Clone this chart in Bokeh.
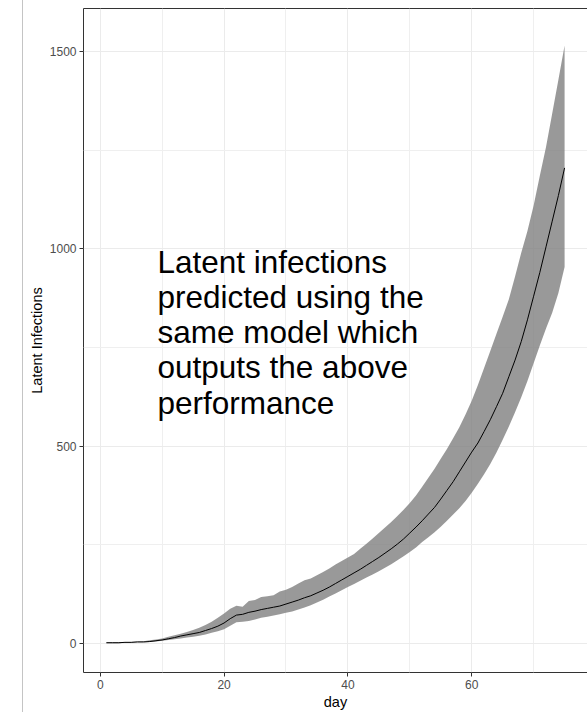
from bokeh.plotting import figure
from bokeh.models import Range1d, FixedTicker, Label, ColumnDataSource, Spacer
from bokeh.layouts import row
from bokeh.embed import file_html
from bokeh.resources import INLINE

days = list(range(1, 76))
median = [2, 2, 2, 3, 3, 4, 4, 5, 7, 9,
          12, 15, 19, 22, 25, 28, 33, 38, 44, 52,
          63, 72, 74, 79, 82, 86, 89, 92, 95, 100,
          105, 110, 116, 121, 128, 135, 143, 152, 161, 170,
          179, 188, 198, 208, 218, 229, 240, 252, 265, 280,
          295, 311, 328, 345, 366, 388, 410, 435, 460, 485,
          508, 537, 567, 600, 634, 676, 718, 765, 820, 880,
          940, 1005, 1070, 1135, 1205]
upper = [3, 3, 3, 4, 4, 5, 6, 8, 10, 13,
         17, 21, 25, 29, 34, 40, 47, 55, 65, 76,
         88, 96, 93, 108, 110, 118, 120, 122, 132, 136,
         143, 152, 160, 165, 173, 181, 190, 200, 209, 218,
         227, 240, 253, 266, 280, 294, 308, 323, 339, 356,
         375, 397, 420, 443, 468, 493, 520, 548, 580, 615,
         655, 698, 741, 785, 828, 872, 930, 990, 1045, 1110,
         1185, 1258, 1343, 1428, 1515]
lower = [1, 1, 1, 2, 2, 3, 3, 4, 5, 7,
         9, 11, 13, 15, 17, 20, 23, 27, 31, 36,
         45, 54, 55, 57, 61, 65, 68, 71, 74, 78,
         81, 86, 91, 97, 104, 111, 119, 127, 135, 143,
         151, 159, 167, 175, 183, 192, 201, 211, 221, 232,
         243, 257, 269, 282, 296, 311, 327, 343, 361, 382,
         405, 429, 455, 484, 516, 550, 586, 624, 665, 710,
         755, 798, 838, 888, 954]

x_ticks = [0, 20, 40, 60]
x_minor = [10, 30, 50, 70]
y_ticks = [0, 500, 1000, 1500]
y_minor = [250, 750, 1250]
x_title = "day"
y_title = "Latent Infections"
note_lines = ["Latent infections", "predicted using the", "same model which",
              "outputs the above", "performance"]

src = ColumnDataSource(dict(day=days, median=median, lower=lower, upper=upper))

FONT = "Liberation Sans"
FRAME_BOTTOM = 673  # canvas px

p = figure(width=565, height=712, output_backend="svg", toolbar_location=None,
           x_range=Range1d(-2.7, 78.7), y_range=Range1d(-73.4, 1608.8),
           min_border_left=60, min_border_right=1, min_border_top=8, min_border_bottom=39)
p.styles = {"border-left": "1px solid #c4c4c4"}
p.background_fill_color = "white"
p.border_fill_color = "white"
p.outline_line_color = "#333333"
p.outline_line_width = 1

p.xaxis.ticker = FixedTicker(ticks=x_ticks, minor_ticks=x_minor)
p.yaxis.ticker = FixedTicker(ticks=y_ticks, minor_ticks=y_minor)
p.xaxis.axis_label = x_title
p.yaxis.axis_label = y_title

for ax in (p.xaxis[0], p.yaxis[0]):
    ax.axis_line_color = None
    ax.major_tick_line_color = "#333333"
    ax.major_tick_out = 4
    ax.major_tick_in = 0
    ax.minor_tick_line_color = None
    ax.major_label_text_font = FONT
    ax.major_label_text_font_size = "12px"
    ax.major_label_text_color = "#4D4D4D"
    ax.major_label_standoff = 3
    ax.axis_label_text_font = FONT
    ax.axis_label_text_font_size = "14.5px"
    ax.axis_label_text_font_style = "normal"
    ax.axis_label_text_color = "black"
    ax.axis_label_standoff = 2

for g in (p.xgrid[0], p.ygrid[0]):
    g.grid_line_color = "#EBEBEB"
    g.grid_line_width = 1
    g.minor_grid_line_color = "#EFEFEF"
    g.minor_grid_line_width = 1

p.varea(x="day", y1="lower", y2="upper", source=src,
        fill_color="#808080", fill_alpha=0.8)
p.line(x="day", y="median", source=src, line_color="black", line_width=1)

for i, t in enumerate(note_lines):
    p.add_layout(Label(x=74, y=FRAME_BOTTOM - (262 + 35.3 * i), x_units="screen", y_units="screen",
                       text=t, text_font=FONT, text_font_size="31.5px", text_color="black",
                       text_baseline="alphabetic", text_align="left"))

layout = row(Spacer(width=22, height=712, margin=0), p, spacing=0)

open("out.html", "w").write(file_html(layout, INLINE))
